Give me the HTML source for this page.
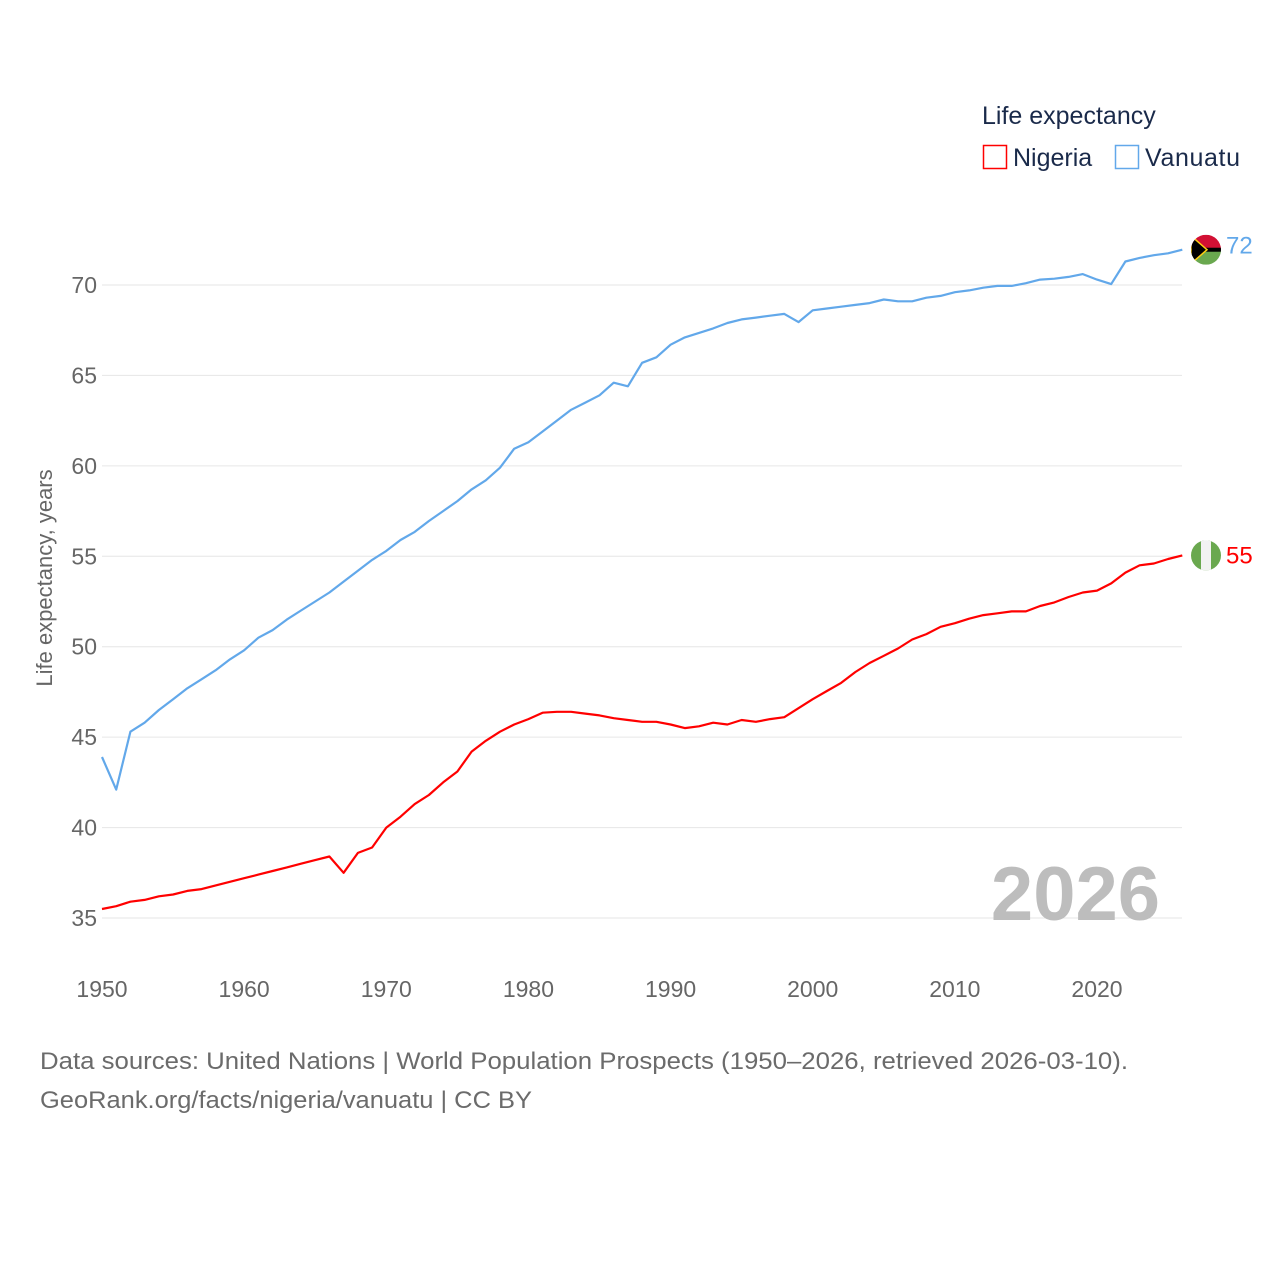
<!DOCTYPE html>
<html><head><meta charset="utf-8"><style>
body{margin:0;background:#fff;width:1280px;height:1280px;overflow:hidden;font-family:"Liberation Sans",sans-serif}
svg{display:block}
</style></head><body>
<svg width="1280" height="1280">
<g id="grid"></g>
<g id="yt"></g>
<g id="xt"></g>
<text x="52" y="578" transform="rotate(-90 52 578)" text-anchor="middle" font-size="22" fill="#666">Life expectancy, years</text>
<text x="1160" y="920" text-anchor="end" font-size="76" font-weight="bold" fill="#bdbdbd">2026</text>
<g id="lines"></g>
<g>
<text x="982" y="124" font-size="25" fill="#1a2a4a">Life expectancy</text>
<g><rect x="983.5" y="145.5" width="23" height="23" fill="none" stroke="#f00" stroke-width="1.5"/><text x="1013" y="166" font-size="25" fill="#1a2a4a">Nigeria</text></g>
<g><rect x="1115.5" y="145.5" width="23" height="23" fill="none" stroke="#62a8ea" stroke-width="1.5"/><text x="1145" y="166" font-size="25" fill="#1a2a4a" textLength="95">Vanuatu</text></g>
</g>
<g id="ends"></g>
<text x="40" y="1069" font-size="24" fill="#6b6b6b" textLength="1088" lengthAdjust="spacingAndGlyphs">Data sources: United Nations | World Population Prospects (1950–2026, retrieved 2026-03-10).</text>
<text x="40" y="1108" font-size="24" fill="#6b6b6b" textLength="492" lengthAdjust="spacingAndGlyphs">GeoRank.org/facts/nigeria/vanuatu | CC BY</text>
</svg>
<script>
const years=[];for(let y=1950;y<=2026;y++)years.push(y);
const yTicks=[35,40,45,50,55,60,65,70];
const xTicks=[1950,1960,1970,1980,1990,2000,2010,2020];
const vanuatu=[43.9,42.1,45.3,45.8,46.5,47.1,47.7,48.2,48.7,49.3,49.8,50.5,50.92,51.5,52.0,52.5,53.0,53.6,54.2,54.8,55.3,55.9,56.35,56.95,57.5,58.05,58.7,59.2,59.9,60.95,61.3,61.9,62.5,63.1,63.5,63.9,64.6,64.4,65.7,66.0,66.7,67.1,67.35,67.6,67.9,68.1,68.2,68.3,68.4,67.95,68.6,68.7,68.8,68.9,69.0,69.2,69.1,69.1,69.3,69.4,69.6,69.7,69.85,69.95,69.95,70.1,70.3,70.35,70.45,70.6,70.3,70.05,71.3,71.5,71.65,71.75,71.95];
const nigeria=[35.5,35.65,35.9,36.0,36.2,36.3,36.5,36.6,36.8,37.0,37.2,37.4,37.6,37.8,38.0,38.2,38.4,37.5,38.6,38.9,40.0,40.6,41.3,41.8,42.5,43.1,44.2,44.8,45.3,45.7,46.0,46.35,46.4,46.4,46.3,46.2,46.05,45.95,45.85,45.85,45.7,45.5,45.6,45.8,45.7,45.95,45.85,46.0,46.1,46.6,47.1,47.55,48.0,48.6,49.1,49.5,49.9,50.4,50.7,51.1,51.3,51.55,51.75,51.85,51.95,51.95,52.25,52.45,52.75,53.0,53.1,53.5,54.1,54.5,54.6,54.85,55.05];
const endLabels=["72","55"];
const NS='http://www.w3.org/2000/svg';
const X=y=>102+(y-1950)*(1097-102)/70;
const Y=v=>285+(70-v)*(918-285)/35;
function mk(t,a,p){const e=document.createElementNS(NS,t);for(const k in a)e.setAttribute(k,a[k]);p.appendChild(e);return e;}
const grid=document.getElementById('grid'),yt=document.getElementById('yt'),xt=document.getElementById('xt');
yTicks.forEach(v=>{
 const l=mk('line',{x1:102,x2:1182,y1:Y(v),y2:Y(v),stroke:'#e6e6e6','stroke-width':1},grid);
 
 
 const t=mk('text',{x:97,y:Y(v)+8,'text-anchor':'end','font-size':23,fill:'#666'},yt);t.textContent=v;
 
 
});
xTicks.forEach(v=>{
 const t=mk('text',{x:X(v),y:997,'text-anchor':'middle','font-size':23,fill:'#666'},xt);t.textContent=v;
 
 
});
const lines=document.getElementById('lines');
[[vanuatu,'#62a8ea','vanuatu'],[nigeria,'#f00','nigeria']].forEach(([d,c,n])=>{
 const p=mk('polyline',{points:d.map((v,i)=>X(years[i]).toFixed(1)+','+Y(v).toFixed(1)).join(' '),fill:'none',stroke:c,'stroke-width':2.2,'stroke-linejoin':'round'},lines);
 
 
});
const ends=document.getElementById('ends');
const last=years.length-1;
(function(){const cy=Y(vanuatu[last]),cx=1206;
 const g=mk('g',{},ends);
 
 
 const cp=mk('clipPath',{id:'cv'},g);
 mk('circle',{cx:cx,cy:cy,r:15},cp);
 const gg=mk('g',{'clip-path':'url(#cv)'},g);
 mk('rect',{x:cx-15,y:cy-15,width:30,height:15,fill:'#d21034'},gg);
 mk('rect',{x:cx-15,y:cy,width:30,height:15,fill:'#6aa84f'},gg);
 mk('rect',{x:cx-15,y:cy-2,width:30,height:4,fill:'#000'},gg);
 mk('polygon',{points:`${cx-15},${cy-14} ${cx+1},${cy} ${cx-15},${cy+14}`,fill:'#000',stroke:'#fdce12','stroke-width':1.5},gg);
 const t=mk('text',{x:1226,y:cy+4,'font-size':24,fill:'#62a8ea'},ends);t.textContent=endLabels[0];
 
 
})();
(function(){const cy=Y(nigeria[last]),cx=1206;
 const g=mk('g',{},ends);
 
 
 const cp=mk('clipPath',{id:'cn'},g);
 mk('circle',{cx:cx,cy:cy,r:15},cp);
 const gg=mk('g',{'clip-path':'url(#cn)'},g);
 mk('rect',{x:cx-15,y:cy-15,width:30,height:30,fill:'#6aa84f'},gg);
 mk('rect',{x:cx-5,y:cy-15,width:10,height:30,fill:'#f2f2f2'},gg);
 const t=mk('text',{x:1226,y:cy+8,'font-size':24,fill:'#f00'},ends);t.textContent=endLabels[1];
 
 
})();
</script>
</body></html>
